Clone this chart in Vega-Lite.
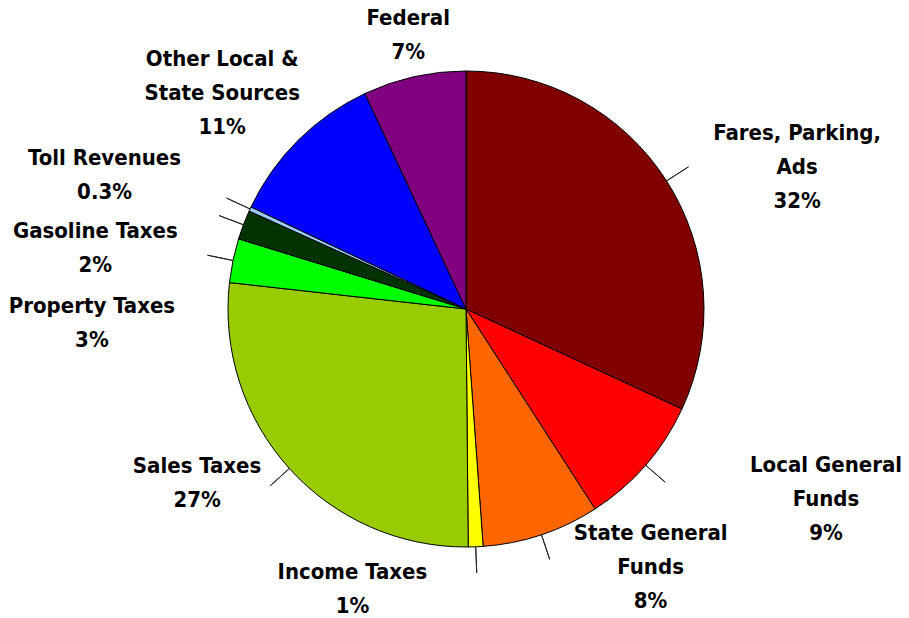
{
  "$schema": "https://vega.github.io/schema/vega-lite/v6.json",
  "width": 932,
  "height": 618,
  "padding": 0,
  "autosize": "none",
  "background": "white",
  "view": {"stroke": null},
  "data": {
    "values": [
      {"idx": 1, "source": "Fares, Parking, Ads", "label": "Fares, Parking,\nAds", "share": 32},
      {"idx": 2, "source": "Local General Funds", "label": "Local General\nFunds", "share": 9},
      {"idx": 3, "source": "State General Funds", "label": "State General\nFunds", "share": 8},
      {"idx": 4, "source": "Income Taxes", "label": "Income Taxes", "share": 1},
      {"idx": 5, "source": "Sales Taxes", "label": "Sales Taxes", "share": 27},
      {"idx": 6, "source": "Property Taxes", "label": "Property Taxes", "share": 3},
      {"idx": 7, "source": "Gasoline Taxes", "label": "Gasoline Taxes", "share": 2},
      {"idx": 8, "source": "Toll Revenues", "label": "Toll Revenues", "share": 0.3},
      {"idx": 9, "source": "Other Local & State Sources", "label": "Other Local &\nState Sources", "share": 11},
      {"idx": 10, "source": "Federal", "label": "Federal", "share": 7}
    ]
  },
  "transform": [
    {"window": [{"op": "sum", "field": "share", "as": "cum"}], "sort": [{"field": "idx"}]},
    {"calculate": "datum.cum - datum.share / 2", "as": "mid"},
    {"calculate": "datum.label + '\\n' + datum.share + '%'", "as": "text"}
  ],
  "layer": [
    {
      "mark": {"type": "arc", "outerRadius": 238, "stroke": "black", "strokeWidth": 1},
      "encoding": {
        "theta": {"field": "share", "type": "quantitative", "stack": true},
        "order": {"field": "idx", "type": "quantitative"},
        "color": {
          "field": "source",
          "type": "nominal",
          "legend": null,
          "scale": {
            "domain": ["Fares, Parking, Ads", "Local General Funds", "State General Funds", "Income Taxes", "Sales Taxes", "Property Taxes", "Gasoline Taxes", "Toll Revenues", "Other Local & State Sources", "Federal"],
            "range": ["#800000", "#FF0000", "#FF6600", "#FFFF00", "#99CC00", "#00FF00", "#003300", "#99CCFF", "#0000FF", "#800080"]
          }
        }
      }
    },
    {
      "transform": [{"filter": "datum.idx <= 8"}],
      "mark": {"type": "arc", "radius": 264, "radius2": 238, "filled": false, "stroke": "#222222", "strokeWidth": 1},
      "encoding": {
        "theta": {"field": "mid", "type": "quantitative"},
        "theta2": {"field": "mid"}
      }
    },
    {
      "transform": [{"filter": "datum.idx == 1"}],
      "mark": {"type": "text", "radius": 330, "dx": 53, "dy": 2, "font": "DejaVu Sans Condensed, DejaVu Sans", "fontSize": 22, "fontWeight": "bold", "lineBreak": "\n", "lineHeight": 34, "align": "center", "baseline": "middle", "color": "black"},
      "encoding": {"theta": {"field": "mid", "type": "quantitative"}, "text": {"field": "text"}}
    },
    {
      "transform": [{"filter": "datum.idx == 2"}],
      "mark": {"type": "text", "radius": 330, "dx": 111, "dy": -61, "font": "DejaVu Sans Condensed, DejaVu Sans", "fontSize": 22, "fontWeight": "bold", "lineBreak": "\n", "lineHeight": 34, "align": "center", "baseline": "middle", "color": "black"},
      "encoding": {"theta": {"field": "mid", "type": "quantitative"}, "text": {"field": "text"}}
    },
    {
      "transform": [{"filter": "datum.idx == 3"}],
      "mark": {"type": "text", "radius": 330, "dx": 80, "dy": -89, "font": "DejaVu Sans Condensed, DejaVu Sans", "fontSize": 22, "fontWeight": "bold", "lineBreak": "\n", "lineHeight": 34, "align": "center", "baseline": "middle", "color": "black"},
      "encoding": {"theta": {"field": "mid", "type": "quantitative"}, "text": {"field": "text"}}
    },
    {
      "transform": [{"filter": "datum.idx == 4"}],
      "mark": {"type": "text", "radius": 330, "dx": -127, "dy": -67, "font": "DejaVu Sans Condensed, DejaVu Sans", "fontSize": 22, "fontWeight": "bold", "lineBreak": "\n", "lineHeight": 34, "align": "center", "baseline": "middle", "color": "black"},
      "encoding": {"theta": {"field": "mid", "type": "quantitative"}, "text": {"field": "text"}}
    },
    {
      "transform": [{"filter": "datum.idx == 5"}],
      "mark": {"type": "text", "radius": 330, "dx": -24, "dy": -64, "font": "DejaVu Sans Condensed, DejaVu Sans", "fontSize": 22, "fontWeight": "bold", "lineBreak": "\n", "lineHeight": 34, "align": "center", "baseline": "middle", "color": "black"},
      "encoding": {"theta": {"field": "mid", "type": "quantitative"}, "text": {"field": "text"}}
    },
    {
      "transform": [{"filter": "datum.idx == 6"}],
      "mark": {"type": "text", "radius": 330, "dx": -51, "dy": 64, "font": "DejaVu Sans Condensed, DejaVu Sans", "fontSize": 22, "fontWeight": "bold", "lineBreak": "\n", "lineHeight": 34, "align": "center", "baseline": "middle", "color": "black"},
      "encoding": {"theta": {"field": "mid", "type": "quantitative"}, "text": {"field": "text"}}
    },
    {
      "transform": [{"filter": "datum.idx == 7"}],
      "mark": {"type": "text", "radius": 330, "dx": -62, "dy": 39, "font": "DejaVu Sans Condensed, DejaVu Sans", "fontSize": 22, "fontWeight": "bold", "lineBreak": "\n", "lineHeight": 34, "align": "center", "baseline": "middle", "color": "black"},
      "encoding": {"theta": {"field": "mid", "type": "quantitative"}, "text": {"field": "text"}}
    },
    {
      "transform": [{"filter": "datum.idx == 8"}],
      "mark": {"type": "text", "radius": 330, "dx": -62, "dy": -12, "font": "DejaVu Sans Condensed, DejaVu Sans", "fontSize": 22, "fontWeight": "bold", "lineBreak": "\n", "lineHeight": 34, "align": "center", "baseline": "middle", "color": "black"},
      "encoding": {"theta": {"field": "mid", "type": "quantitative"}, "text": {"field": "text"}}
    },
    {
      "transform": [{"filter": "datum.idx == 9"}],
      "mark": {"type": "text", "radius": 330, "dx": -11, "dy": -16, "font": "DejaVu Sans Condensed, DejaVu Sans", "fontSize": 22, "fontWeight": "bold", "lineBreak": "\n", "lineHeight": 34, "align": "center", "baseline": "middle", "color": "black"},
      "encoding": {"theta": {"field": "mid", "type": "quantitative"}, "text": {"field": "text"}}
    },
    {
      "transform": [{"filter": "datum.idx == 10"}],
      "mark": {"type": "text", "radius": 330, "dx": 14, "dy": 31, "font": "DejaVu Sans Condensed, DejaVu Sans", "fontSize": 22, "fontWeight": "bold", "lineBreak": "\n", "lineHeight": 34, "align": "center", "baseline": "middle", "color": "black"},
      "encoding": {"theta": {"field": "mid", "type": "quantitative"}, "text": {"field": "text"}}
    }
  ]
}
